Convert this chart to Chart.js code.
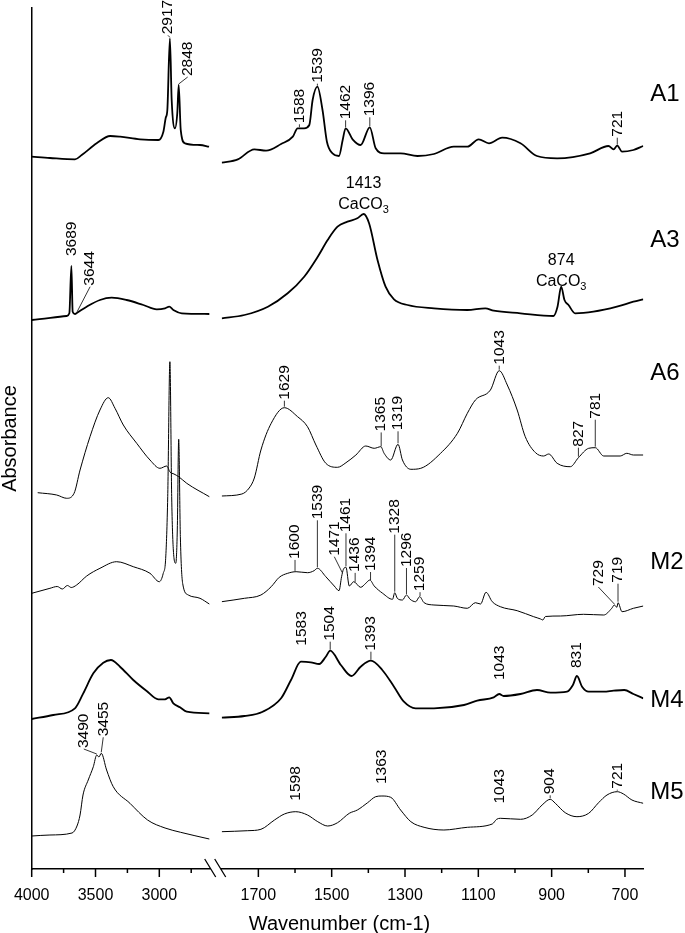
<!DOCTYPE html>
<html>
<head>
<meta charset="utf-8">
<script src="https://cdn.jsdelivr.net/npm/chart.js@4.4.1/dist/chart.umd.min.js"></script>
<style>
  html, body { margin: 0; padding: 0; background: #fff; }
  #wrap { width: 685px; height: 933px; position: relative; }
</style>
</head>
<body>
<div id="wrap"><canvas id="ftir"></canvas></div>
<script>
"use strict"
//FTIR spectra: wavenumber (cm-1) and absorbance (a.u.) per sample

var sampleNames = ["A1", "A3", "A6", "M2", "M4", "M5"];

//A1
var a1Wn = [4000,3857,3661,3608,3491,3385,3307,3151,3007,2968,2950,2937,2917,2903,2877,2859,2848,2832,2799,2681,2610,
  1800,1756,1711,1679,1638,1606,1593,1575,1561,1552,1539,1525,1513,1498,1480,1470,1462,1443,1421,1396,1380,1357,1312,1266,1221,1167,1130,1099,1071,1035,985,940,885,795,745,731,721,708,677,650];
var a1Abs = [8.3,7,5.7,10,21.7,29,28.3,25.7,25,33.3,47,55,126.7,65,36.7,52,80,35,21.7,20,18.3,
  2.3,5.7,15.7,14.3,21,28.3,36.7,36.7,40,65,78.3,55,23.3,11.7,9,25,36.7,25.7,20,37.7,16.7,11.7,11.7,9,11,18.3,18.3,25.7,21.7,27.3,21.7,9,6.7,11.7,19,15.7,19.3,13.3,15,19];

//A3
var a3Wn = [4000,3726,3705,3689,3679,3661,3644,3569,3465,3373,3256,3125,3020,2955,2922,2890,2824,2608,
  1800,1738,1674,1620,1575,1538,1511,1484,1457,1430,1413,1398,1375,1353,1330,1293,1221,1130,1081,1058,985,895,884,874,865,854,836,786,722,677,650];
var a3Abs = [2,6,8.7,56,10.3,8,9.3,15.3,22,24.3,22,17,12.7,13.7,15.3,12,8.7,8,
  3.7,7,15.3,28.7,45.3,65.3,82,95.3,100.3,103.7,108,98.7,62,35.3,22.7,17,13.7,12,13.7,11.3,8.7,6,15.3,35.3,22,17,8.7,10.3,15.3,20.3,22.7];

//A6
var a6Wn = [3953,3804,3726,3668,3621,3543,3465,3400,3347,3282,3177,3073,2995,2942,2916,2885,2848,2785,2608,
  1800,1745,1725,1711,1693,1665,1629,1593,1566,1543,1516,1484,1461,1434,1407,1384,1366,1357,1339,1319,1307,1284,1257,1203,1157,1130,1108,1067,1043,1021,994,972,944,922,908,885,849,827,799,781,758,713,695,677,650];
var a6Abs = [7.3,5,1.7,6.7,30,63.3,90,102.3,91.7,75,56.7,40,31.7,34,28,26,23.3,16.7,3.3,
  4,6,12,22,50,76.7,92.3,83.3,73.3,55,36.7,32.7,37.3,45,54,51.7,53.3,46.7,40,55.7,40,30.7,31.7,46.7,66.7,86.7,100,110,129.3,115,90,63.3,47.3,44,46,36.7,33.3,42.3,51.7,52.3,44,44,46.7,45,45];

//M2
var m2Wn = [4000,3857,3800,3760,3720,3690,3648,3569,3465,3334,3204,3073,3000,2969,2950,2934,2917,2903,2890,2871,2859,2848,2835,2817,2773,2681,2608,
  1800,1738,1693,1665,1643,1620,1597,1566,1548,1539,1516,1493,1480,1473,1468,1461,1452,1440,1421,1407,1396,1384,1361,1334,1328,1321,1307,1296,1286,1271,1260,1248,1221,1167,1130,1108,1094,1079,1062,1040,994,949,930,924,917,876,813,758,736,729,722,719,708,677,650];
var m2Abs = [30.7,35.7,37.5,35,38.5,36.5,39,48,55.7,62.3,57.3,50.7,42.3,50.7,65.7,127.3,262.3,127.3,74,60.7,94,184.7,87.3,40.7,29,25.7,20,
  22.3,25.7,29,37.3,46.7,50.7,52.3,51.3,53.3,55.7,47.3,38,33.3,47.3,54.7,56.7,38,42.3,36.7,40.7,44,38,30.7,24.7,31.3,25.7,24,29,24.7,22.3,27.3,21.3,19,18,15.7,21.3,20,31.7,22.3,17.3,13.3,7.3,5,4,7.5,8,9.7,9,15.7,19,16.7,21.3,12.3,15.7,18];

//M4
var m4Wn = [4000,3831,3661,3596,3517,3439,3379,3308,3204,3099,3008,2955,2922,2890,2838,2785,2608,
  1800,1738,1688,1638,1611,1584,1557,1534,1516,1504,1475,1446,1421,1393,1362,1330,1303,1271,1221,1139,1103,1058,1043,1031,985,940,903,858,842,831,817,799,758,731,702,677,650];
var m4Abs = [3,7,13.7,28.7,48.7,59.3,62,55.3,42,31,22.7,22.7,24.7,18.7,14.7,10.3,8.7,
  4.3,6,10.3,23.7,42,60.3,59.7,58,65.3,71.3,57,46,55.3,61.3,52,35.3,20.3,13.7,13.7,17,21.3,24.7,28,26,28,32,29.3,30.3,37,46,35.3,30.3,30.3,31.3,32,28,23.7];

//M5
var m5Wn = [4000,3857,3684,3645,3621,3598,3557,3517,3490,3473,3455,3413,3361,3230,3092,2955,2833,2608,
  1800,1729,1693,1656,1629,1598,1566,1538,1511,1484,1452,1430,1402,1380,1363,1339,1312,1284,1248,1194,1130,1062,1050,1040,985,953,926,904,890,863,831,799,772,749,721,704,681,650];
var m5Abs = [4,5,7,14,25,45,60,73.3,85,83,86.7,70,53.3,36.7,20,12,7.7,1,
  8.3,9.3,10.7,20,26,28.3,25,18.3,14,17.3,26.7,30,37.3,43.3,44,42.7,30,18.3,12.7,10,12.7,16,20.7,21.7,20.7,25,35,40.7,36.7,27.3,23.3,26.7,37.3,45,48.3,46,40,36.7];

//peak labels: [sample index, wavenumber, text]
var peakLabels = [
  [0,2917,"2917"],[0,2848,"2848"],[0,1588,"1588"],[0,1539,"1539"],[0,1462,"1462"],[0,1396,"1396"],[0,721,"721"],
  [1,3689,"3689"],[1,3644,"3644"],
  [2,1629,"1629"],[2,1365,"1365"],[2,1319,"1319"],[2,1043,"1043"],[2,827,"827"],[2,781,"781"],
  [3,1600,"1600"],[3,1539,"1539"],[3,1471,"1471"],[3,1461,"1461"],[3,1436,"1436"],[3,1394,"1394"],[3,1328,"1328"],[3,1296,"1296"],[3,1259,"1259"],[3,729,"729"],[3,719,"719"],
  [4,1583,"1583"],[4,1504,"1504"],[4,1393,"1393"],[4,1043,"1043"],[4,831,"831"],
  [5,3490,"3490"],[5,3455,"3455"],[5,1598,"1598"],[5,1363,"1363"],[5,1043,"1043"],[5,904,"904"],[5,721,"721"]
];
//CaCO3 bands marked on A3
var carbonateLabels = [[1,1413,"1413"],[1,874,"874"]];

//x axis ticks (labelled and minor)
var highTicks = [4000,3500,3000];
var highMinor = [3750,3250,2750];
var lowTicks = [1700,1500,1300,1100,900,700];
var lowMinor = [1600,1400,1200,1000,800];

// ---------- layout / style (not data) ----------
var FONT = "'Liberation Sans', Arial, Helvetica, sans-serif";
var offsets = [704, 547, 369, 245, 147, 29];      //vertical shift of each trace
var widths = [1.8, 1.8, 1, 1, 1.8, 1];           //line weight of each trace
var nameLift = [71, 82, 127, 62, 22, 48];         //sample name height above trace
//label placement per peak: [lift px, x shift px, leader line]
var peakPos = [
  [3,-2,true],[8,9,true],[4,0,true],[3,0,true],[8,0,true],[10,0,true],[8,0,true],
  [9,0,false],[26,13,true],
  [7,0,true],[15,0,true],[13,0,true],[5,0,true],[10,0,true],[28,0,true],
  [12,0,true],[48,0,true],[17,-8,true],[34,0,true],[10,0,true],[9,0,true],[58,0,true],[27,0,true],[5,0,true],[18,-16,true],[19,0,true],
  [15,0,false],[9,0,true],[9,0,true],[13,0,false],[7,0,false],
  [6,-13,true],[16,2,true],[10,0,false],[11,0,false],[14,0,false],[4,0,true],[2,0,true]
];
var carbonateLift = [5, 1];
var SPLIT = 2000; //wavenumbers above this go on the high-range axis

var spectra = [[a1Wn,a1Abs],[a3Wn,a3Abs],[a6Wn,a6Abs],[m2Wn,m2Abs],[m4Wn,m4Abs],[m5Wn,m5Abs]];

function absAt(s, w) {//linear interpolation along a trace
  var wn = spectra[s][0], ab = spectra[s][1];
  for (var i = 0; i < wn.length - 1; i++) {
    if ((wn[i] - w) * (wn[i + 1] - w) <= 0 && wn[i] !== wn[i + 1]) {
      var t = (w - wn[i]) / (wn[i + 1] - wn[i]);
      return ab[i] + t * (ab[i + 1] - ab[i]);
    }
  }
  return ab[ab.length - 1];
}

var datasets = [];
spectra.forEach(function(sp, s) {
  var hi = [], lo = [];
  sp[0].forEach(function(w, i) {
    var pt = {x: w, y: offsets[s] + sp[1][i]};
    (w > SPLIT ? hi : lo).push(pt);
  });
  [[hi, "xL"], [lo, "xR"]].forEach(function(part) {
    datasets.push({
      label: sampleNames[s],
      data: part[0],
      xAxisID: part[1],
      yAxisID: "y",
      borderColor: "#000",
      borderWidth: widths[s],
      pointRadius: 0,
      fill: false,
      cubicInterpolationMode: "monotone"
    });
  });
});

function xScaleFor(chart, w) { return w > SPLIT ? chart.scales.xL : chart.scales.xR; }

var annotate = {
  id: "annotate",
  afterDraw: function(chart) {
    var ctx = chart.ctx, ys = chart.scales.y, ca = chart.chartArea;
    ctx.save();
    ctx.fillStyle = "#000";
    ctx.strokeStyle = "#000";

    //peak labels, rotated
    ctx.font = "15.5px " + FONT;
    ctx.lineWidth = 0.8;
    peakLabels.forEach(function(p, k) {
      var pos = peakPos[k];
      var px = xScaleFor(chart, p[1]).getPixelForValue(p[1]);
      var py = ys.getPixelForValue(offsets[p[0]] + absAt(p[0], p[1]));
      var lx = px + pos[1], ly = py - pos[0];
      if (pos[2]) {
        ctx.beginPath();
        ctx.moveTo(px, py - 1);
        ctx.lineTo(lx, ly);
        ctx.stroke();
      }
      ctx.save();
      ctx.translate(lx, ly - 1);
      ctx.rotate(-Math.PI / 2);
      ctx.textAlign = "left";
      ctx.textBaseline = "middle";
      ctx.fillText(p[2], 0, 0);
      ctx.restore();
    });

    //CaCO3 labels, horizontal
    carbonateLabels.forEach(function(c, k) {
      var px = xScaleFor(chart, c[1]).getPixelForValue(c[1]);
      var py = ys.getPixelForValue(offsets[c[0]] + absAt(c[0], c[1]));
      var by = py - carbonateLift[k];
      ctx.font = "16px " + FONT;
      ctx.textBaseline = "alphabetic";
      ctx.textAlign = "left";
      var w1 = ctx.measureText("CaCO").width;
      ctx.font = "11px " + FONT;
      var w2 = ctx.measureText("3").width;
      var x0 = px - (w1 + w2) / 2;
      ctx.font = "16px " + FONT;
      ctx.fillText("CaCO", x0, by);
      ctx.font = "11px " + FONT;
      ctx.fillText("3", x0 + w1, by + 4);
      ctx.font = "16px " + FONT;
      ctx.textAlign = "center";
      ctx.fillText(c[2], px, by - 21);
    });

    //sample names
    ctx.font = "24px " + FONT;
    ctx.textAlign = "left";
    ctx.textBaseline = "middle";
    sampleNames.forEach(function(n, s) {
      ctx.fillText(n, ca.right + 7, ys.getPixelForValue(offsets[s] + nameLift[s]));
    });

    //tick marks: long on labelled values, short in between
    ctx.lineWidth = 1.5;
    [["xL", highTicks], ["xR", lowTicks]].forEach(function(a) {
      var sc = chart.scales[a[0]];
      sc.ticks.forEach(function(t) {
        var x = sc.getPixelForValue(t.value);
        var len = a[1].indexOf(t.value) >= 0 ? 8 : 4;
        ctx.beginPath();
        ctx.moveTo(x, ca.bottom);
        ctx.lineTo(x, ca.bottom + len);
        ctx.stroke();
      });
    });

    //axis break
    var b = chart.scales.xR.left;
    ctx.fillStyle = "#fff";
    ctx.fillRect(b - 11, ca.bottom - 3, 10, 6);
    ctx.lineWidth = 1.3;
    ctx.beginPath();
    ctx.moveTo(b - 17, ca.bottom - 10); ctx.lineTo(b - 6, ca.bottom + 8);
    ctx.moveTo(b - 7, ca.bottom - 10); ctx.lineTo(b + 4, ca.bottom + 8);
    ctx.stroke();

    //x title
    ctx.fillStyle = "#000";
    ctx.font = "20px " + FONT;
    ctx.textAlign = "center";
    ctx.textBaseline = "middle";
    ctx.fillText("Wavenumber (cm-1)", (ca.left + ca.right) / 2 + 2, ca.bottom + 55);
    ctx.restore();
  }
};

function xAxis(min, max, weight, labels, minor) {
  return {
    type: "linear",
    position: "bottom",
    stack: "wn",
    stackWeight: weight,
    reverse: true,
    min: min,
    max: max,
    grid: {display: false, drawTicks: false},
    border: {display: true, color: "#000", width: 1.5},
    afterBuildTicks: function(s) {
      s.ticks = labels.concat(minor).sort(function(a, b) { return a - b; })
        .map(function(v) { return {value: v}; });
    },
    ticks: {
      autoSkip: false,
      maxRotation: 0,
      padding: 17,
      color: "#000",
      font: {family: FONT, size: 16},
      callback: function(v) { return labels.indexOf(v) >= 0 ? String(v) : ""; }
    },
    afterFit: function(s) { s.height = 64; }
  };
}

var ftirC = document.getElementById("ftir");
var ftirChart = new Chart(ftirC, {
  type: "line",
  data: {datasets: datasets},
  plugins: [annotate],
  options: {
    responsive: true,
    maintainAspectRatio: false,
    animation: false,
    layout: {padding: {top: 8, right: 41.7, bottom: 0, left: 0}},
    plugins: {legend: {display: false}, tooltip: {enabled: false}},
    scales: {
      xL: xAxis(2511, 4000, 190, highTicks, highMinor),
      xR: xAxis(650, 1800, 421.6, lowTicks, lowMinor),
      y: {
        type: "linear",
        position: "left",
        min: 0,
        max: 861,
        grid: {display: false, drawTicks: false},
        border: {display: true, color: "#000", width: 1.5},
        ticks: {display: false},
        title: {display: true, text: "Absorbance", color: "#000", padding: 0, font: {family: FONT, size: 20, lineHeight: 1}},
        afterFit: function(s) { s.width = 31.7; }
      }
    }
  }
});
</script>
</body>
</html>
